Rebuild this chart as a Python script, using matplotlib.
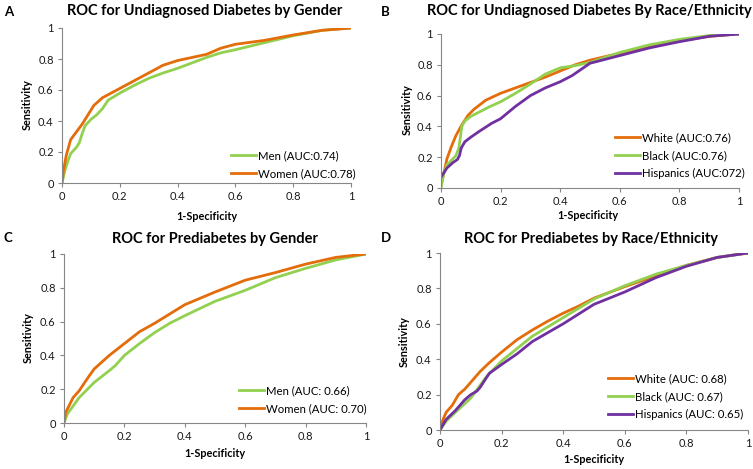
import matplotlib
matplotlib.use('Agg')
import matplotlib.pyplot as plt
from matplotlib.ticker import FuncFormatter

plt.rcParams['font.family'] = ['Lato', 'DejaVu Sans']

ORANGE = '#E46C0A'
GREEN = '#92D050'
PURPLE = '#7030A0'
GRAY = '#868686'

# ---- panel A: undiagnosed diabetes by gender
a_men_x = [0, 0.01, 0.02, 0.03, 0.05, 0.06, 0.07, 0.08, 0.10, 0.12, 0.14, 0.16, 0.2, 0.25, 0.3, 0.35, 0.4, 0.45, 0.5, 0.55, 0.6, 0.7, 0.8, 0.9, 1.0]
a_men_y = [0, 0.08, 0.14, 0.19, 0.23, 0.26, 0.32, 0.37, 0.41, 0.44, 0.48, 0.535, 0.58, 0.63, 0.675, 0.71, 0.74, 0.775, 0.81, 0.84, 0.86, 0.905, 0.95, 0.985, 1.0]
a_women_x = [0, 0.005, 0.015, 0.03, 0.05, 0.07, 0.09, 0.11, 0.14, 0.17, 0.2, 0.25, 0.3, 0.35, 0.4, 0.45, 0.5, 0.55, 0.6, 0.7, 0.8, 0.9, 1.0]
a_women_y = [0, 0.08, 0.18, 0.28, 0.33, 0.38, 0.44, 0.50, 0.55, 0.58, 0.61, 0.66, 0.71, 0.76, 0.79, 0.81, 0.83, 0.87, 0.895, 0.92, 0.955, 0.985, 1.0]

# ---- panel B: undiagnosed diabetes by race/ethnicity
b_white_x = [0, 0.01, 0.02, 0.035, 0.05, 0.07, 0.09, 0.11, 0.15, 0.2, 0.25, 0.3, 0.35, 0.4, 0.45, 0.5, 0.6, 0.7, 0.8, 0.9, 1.0]
b_white_y = [0.02, 0.1, 0.19, 0.27, 0.34, 0.41, 0.47, 0.51, 0.57, 0.615, 0.65, 0.685, 0.72, 0.76, 0.8, 0.83, 0.875, 0.915, 0.955, 0.985, 1.0]
b_black_x = [0, 0.005, 0.01, 0.02, 0.035, 0.05, 0.06, 0.065, 0.07, 0.08, 0.1, 0.13, 0.16, 0.2, 0.25, 0.3, 0.35, 0.4, 0.45, 0.5, 0.6, 0.7, 0.8, 0.9, 1.0]
b_black_y = [0, 0.05, 0.1, 0.15, 0.18, 0.21, 0.26, 0.33, 0.40, 0.435, 0.465, 0.495, 0.525, 0.56, 0.615, 0.675, 0.74, 0.78, 0.795, 0.815, 0.88, 0.93, 0.965, 0.99, 1.0]
b_hisp_x = [0, 0.01, 0.02, 0.04, 0.055, 0.062, 0.068, 0.08, 0.1, 0.13, 0.17, 0.2, 0.25, 0.3, 0.35, 0.4, 0.44, 0.47, 0.5, 0.55, 0.6, 0.7, 0.8, 0.9, 1.0]
b_hisp_y = [0.07, 0.1, 0.13, 0.165, 0.185, 0.21, 0.26, 0.3, 0.33, 0.37, 0.42, 0.45, 0.53, 0.6, 0.65, 0.69, 0.73, 0.77, 0.81, 0.835, 0.86, 0.91, 0.95, 0.985, 1.0]

# ---- panel C: prediabetes by gender
c_men_x = [0, 0.01, 0.03, 0.05, 0.1, 0.15, 0.17, 0.2, 0.25, 0.3, 0.35, 0.4, 0.5, 0.6, 0.7, 0.8, 0.9, 1.0]
c_men_y = [0, 0.05, 0.1, 0.15, 0.24, 0.31, 0.34, 0.4, 0.47, 0.535, 0.59, 0.635, 0.72, 0.785, 0.86, 0.915, 0.965, 1.0]
c_women_x = [0, 0.005, 0.03, 0.05, 0.08, 0.1, 0.15, 0.2, 0.25, 0.3, 0.35, 0.4, 0.5, 0.6, 0.7, 0.8, 0.9, 1.0]
c_women_y = [0, 0.06, 0.15, 0.19, 0.27, 0.32, 0.4, 0.47, 0.54, 0.59, 0.645, 0.7, 0.775, 0.845, 0.89, 0.94, 0.98, 1.0]

# ---- panel D: prediabetes by race/ethnicity
d_white_x = [0, 0.01, 0.02, 0.04, 0.06, 0.08, 0.1, 0.13, 0.16, 0.2, 0.25, 0.3, 0.35, 0.4, 0.45, 0.5, 0.6, 0.7, 0.8, 0.9, 1.0]
d_white_y = [0, 0.06, 0.1, 0.14, 0.2, 0.23, 0.27, 0.33, 0.38, 0.44, 0.51, 0.565, 0.615, 0.66, 0.7, 0.745, 0.81, 0.87, 0.93, 0.975, 1.0]
d_black_x = [0, 0.02, 0.05, 0.1, 0.15, 0.2, 0.25, 0.3, 0.4, 0.5, 0.6, 0.7, 0.8, 0.9, 1.0]
d_black_y = [0, 0.05, 0.1, 0.18, 0.3, 0.39, 0.46, 0.53, 0.635, 0.74, 0.815, 0.88, 0.93, 0.975, 1.0]
d_hisp_x = [0, 0.02, 0.05, 0.08, 0.1, 0.12, 0.13, 0.16, 0.2, 0.25, 0.3, 0.35, 0.4, 0.5, 0.6, 0.7, 0.8, 0.9, 1.0]
d_hisp_y = [0, 0.06, 0.11, 0.17, 0.2, 0.22, 0.24, 0.32, 0.37, 0.43, 0.5, 0.55, 0.6, 0.71, 0.78, 0.86, 0.925, 0.975, 1.0]

W, H = 753, 469
fig = plt.figure(figsize=(W / 100, H / 100), dpi=100)


def px_axes(left, top, right, bottom):
    return fig.add_axes([left / W, 1 - bottom / H, (right - left) / W, (bottom - top) / H])


def style(ax):
    ax.set_xlim(0, 1)
    ax.set_ylim(0, 1)
    ax.set_xticks([0, 0.2, 0.4, 0.6, 0.8, 1])
    ax.set_yticks([0, 0.2, 0.4, 0.6, 0.8, 1])
    fmt = FuncFormatter(lambda v, p: '%g' % round(v, 1))
    ax.xaxis.set_major_formatter(fmt)
    ax.yaxis.set_major_formatter(fmt)
    for s in ['top', 'right']:
        ax.spines[s].set_visible(False)
    for s in ['left', 'bottom']:
        ax.spines[s].set_color(GRAY)
        ax.spines[s].set_linewidth(0.8)
    ax.tick_params(length=3, width=0.8, color=GRAY, labelsize=8, labelcolor='#1a1a1a', pad=3)
    ax.set_facecolor('none')


def legend(ax, x, y):
    ax.legend(loc='upper left', bbox_to_anchor=(x / W, 1 - y / H), bbox_transform=fig.transFigure,
              frameon=False, fontsize=8.2, handlelength=2.2, handletextpad=0.15,
              labelspacing=0.6, borderpad=0, borderaxespad=0)


def labels(letter, lx, ly, title, tx, ty, xlx, xly, ylx, yly):
    fig.text(lx / W, 1 - ly / H, letter, fontsize=9.5, fontweight='bold', ha='left', va='center')
    fig.text(tx / W, 1 - ty / H, title, fontsize=10.5, fontweight='bold', ha='center', va='center')
    fig.text(xlx / W, 1 - xly / H, '1-Specificity', fontsize=7.8, fontweight='bold', ha='center', va='center')
    fig.text(ylx / W, 1 - yly / H, 'Sensitivity', fontsize=7.8, fontweight='bold', ha='center', va='center', rotation=90)


LW = 2.0

# A
ax = px_axes(62, 28, 351, 183)
style(ax)
ax.plot(a_men_x, a_men_y, color=GREEN, lw=LW, label='Men (AUC:0.74)')
ax.plot(a_women_x, a_women_y, color=ORANGE, lw=LW, label='Women (AUC:0.78)')
legend(ax, 231, 150)
labels('A', 4, 12, 'ROC for Undiagnosed Diabetes by Gender', 205, 11, 207, 216, 27, 105)

# B
ax = px_axes(441, 34, 739, 188)
style(ax)
ax.plot(b_white_x, b_white_y, color=ORANGE, lw=LW, label='White (AUC:0.76)')
ax.plot(b_black_x, b_black_y, color=GREEN, lw=LW, label='Black (AUC:0.76)')
ax.plot(b_hisp_x, b_hisp_y, color=PURPLE, lw=LW, label='Hispanics (AUC:072)')
legend(ax, 615, 132)
labels('B', 381, 12, 'ROC for Undiagnosed Diabetes By Race/Ethnicity', 589, 11, 588, 215, 407, 110)

# C
ax = px_axes(64, 254, 366, 423)
style(ax)
ax.plot(c_men_x, c_men_y, color=GREEN, lw=LW, label='Men (AUC: 0.66)')
ax.plot(c_women_x, c_women_y, color=ORANGE, lw=LW, label='Women (AUC: 0.70)')
legend(ax, 239, 385)
labels('C', 4, 238, 'ROC for Prediabetes by Gender', 215, 239, 215, 453, 28, 338)

# D
ax = px_axes(440, 253, 748, 430)
style(ax)
ax.plot(d_white_x, d_white_y, color=ORANGE, lw=LW, label='White (AUC: 0.68)')
ax.plot(d_black_x, d_black_y, color=GREEN, lw=LW, label='Black (AUC: 0.67)')
ax.plot(d_hisp_x, d_hisp_y, color=PURPLE, lw=LW, label='Hispanics (AUC: 0.65)')
legend(ax, 608, 373)
labels('D', 381, 238, 'ROC for Prediabetes by Race/Ethnicity', 591, 239, 594, 459, 404, 342)

fig.savefig('out.png', dpi=100)
